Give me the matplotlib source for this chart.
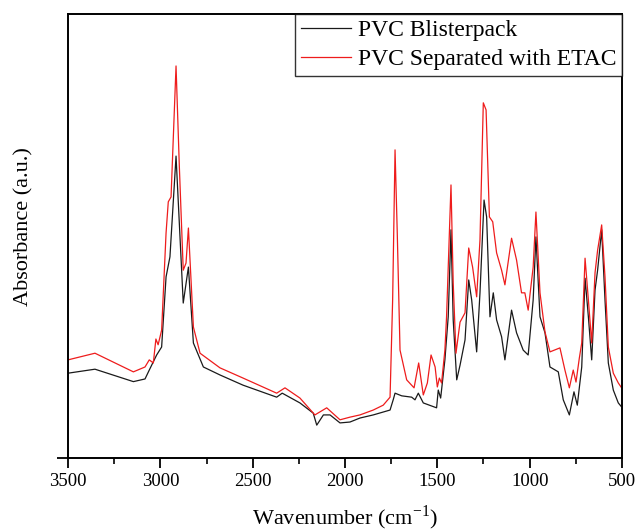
import matplotlib
matplotlib.use("Agg")
import matplotlib.pyplot as plt
from matplotlib.ticker import MultipleLocator

plt.rcParams['font.family'] = ['Liberation Serif', 'DejaVu Serif']
plt.rcParams['mathtext.fontset'] = 'stix'

wn_black = [3500, 3354, 3146, 3083, 3060, 3020, 2993, 2969, 2948, 2915, 2876, 2848, 2821, 2767,
            2677, 2552, 2370, 2340, 2244, 2172, 2153, 2117, 2081, 2027, 1973, 1919, 1847, 1756,
            1739, 1729, 1693, 1639, 1621, 1603, 1576, 1504, 1495, 1482, 1459, 1441, 1426, 1414,
            1395, 1377, 1350, 1330, 1314, 1287, 1269, 1247, 1233, 1215, 1197, 1179, 1152, 1134,
            1098, 1071, 1035, 1008, 981, 966, 944, 917, 890, 845, 818, 785, 760, 742, 718, 700,
            682, 664, 646, 632, 610, 592, 574, 547, 520, 502]
abs_black = [0.191, 0.200, 0.172, 0.178, 0.198, 0.232, 0.250, 0.408, 0.453, 0.680, 0.349, 0.430,
             0.259, 0.205, 0.187, 0.164, 0.137, 0.146, 0.124, 0.101, 0.074, 0.097, 0.097, 0.079,
             0.081, 0.090, 0.097, 0.108, 0.131, 0.146, 0.140, 0.137, 0.131, 0.146, 0.124, 0.113,
             0.153, 0.135, 0.221, 0.318, 0.514, 0.311, 0.176, 0.209, 0.266, 0.401, 0.356, 0.239,
             0.372, 0.581, 0.543, 0.318, 0.372, 0.311, 0.273, 0.221, 0.333, 0.282, 0.243, 0.232,
             0.356, 0.498, 0.318, 0.282, 0.205, 0.194, 0.131, 0.097, 0.149, 0.119, 0.205, 0.405,
             0.318, 0.221, 0.378, 0.423, 0.514, 0.356, 0.214, 0.153, 0.124, 0.115]

wn_red = [3500, 3354, 3146, 3083, 3060, 3038, 3024, 3012, 2993, 2969, 2957, 2942, 2915, 2897,
          2876, 2861, 2848, 2821, 2785, 2677, 2552, 2370, 2325, 2244, 2163, 2135, 2099, 2027,
          1973, 1919, 1847, 1793, 1756, 1742, 1729, 1717, 1702, 1666, 1626, 1601, 1576, 1554,
          1534, 1512, 1500, 1489, 1477, 1459, 1450, 1426, 1414, 1399, 1377, 1350, 1330, 1309,
          1287, 1269, 1251, 1236, 1218, 1200, 1179, 1152, 1134, 1098, 1071, 1044, 1026, 1008,
          981, 966, 944, 917, 890, 836, 809, 785, 764, 749, 731, 718, 700, 682, 664, 646, 632,
          610, 592, 574, 547, 520, 502]
abs_red = [0.221, 0.236, 0.194, 0.205, 0.221, 0.214, 0.268, 0.255, 0.288, 0.507, 0.577, 0.588,
           0.883, 0.655, 0.423, 0.439, 0.518, 0.295, 0.236, 0.203, 0.180, 0.146, 0.158, 0.135,
           0.097, 0.104, 0.113, 0.086, 0.092, 0.097, 0.108, 0.119, 0.137, 0.356, 0.694, 0.507,
           0.243, 0.176, 0.158, 0.214, 0.142, 0.169, 0.232, 0.205, 0.160, 0.180, 0.169, 0.243,
           0.318, 0.615, 0.394, 0.236, 0.306, 0.327, 0.473, 0.430, 0.363, 0.491, 0.800, 0.784,
           0.543, 0.532, 0.462, 0.423, 0.390, 0.495, 0.446, 0.372, 0.372, 0.333, 0.430, 0.554,
           0.372, 0.284, 0.239, 0.248, 0.198, 0.158, 0.198, 0.171, 0.225, 0.259, 0.450, 0.356,
           0.259, 0.417, 0.468, 0.525, 0.408, 0.250, 0.191, 0.169, 0.158]

labels = ["PVC Blisterpack", "PVC Separated with ETAC"]

fig = plt.figure(figsize=(6.38, 5.31), dpi=100)
ax = fig.add_axes([0.1066, 0.1375, 0.8683, 0.8361])

ax.plot(wn_black, abs_black, color='#1a1a1a', lw=0.9, label=labels[0])
ax.plot(wn_red, abs_red, color='#ee1c1c', lw=0.9, label=labels[1])

ax.set_xlim(3500, 500)
ax.set_ylim(0, 1)
ax.xaxis.set_major_locator(MultipleLocator(500))
ax.xaxis.set_minor_locator(MultipleLocator(250))
ax.set_yticks([0])
ax.set_yticklabels([])
ax.tick_params(axis='x', which='major', direction='out', length=7, width=1.3, labelsize=13.5, pad=4)
ax.tick_params(axis='x', which='minor', direction='out', length=4, width=1.2)
ax.tick_params(axis='y', which='major', direction='out', length=8, width=1.3)
for s in ax.spines.values():
    s.set_linewidth(1.4)

ax.set_xlabel("Wavenumber (cm$^{\\mathregular{-1}}$)", fontsize=16, labelpad=10)
ax.set_ylabel("Absorbance (a.u.)", fontsize=16)
ax.yaxis.set_label_coords(-0.062, 0.521)

leg = ax.legend(loc='upper right', fontsize=17, frameon=True, fancybox=False,
                edgecolor='black', borderaxespad=0, handlelength=2.1, handletextpad=0.3,
                borderpad=0.25, labelspacing=0.3)
leg.get_frame().set_linewidth(1.0)

fig.savefig("out.png", dpi=100)
